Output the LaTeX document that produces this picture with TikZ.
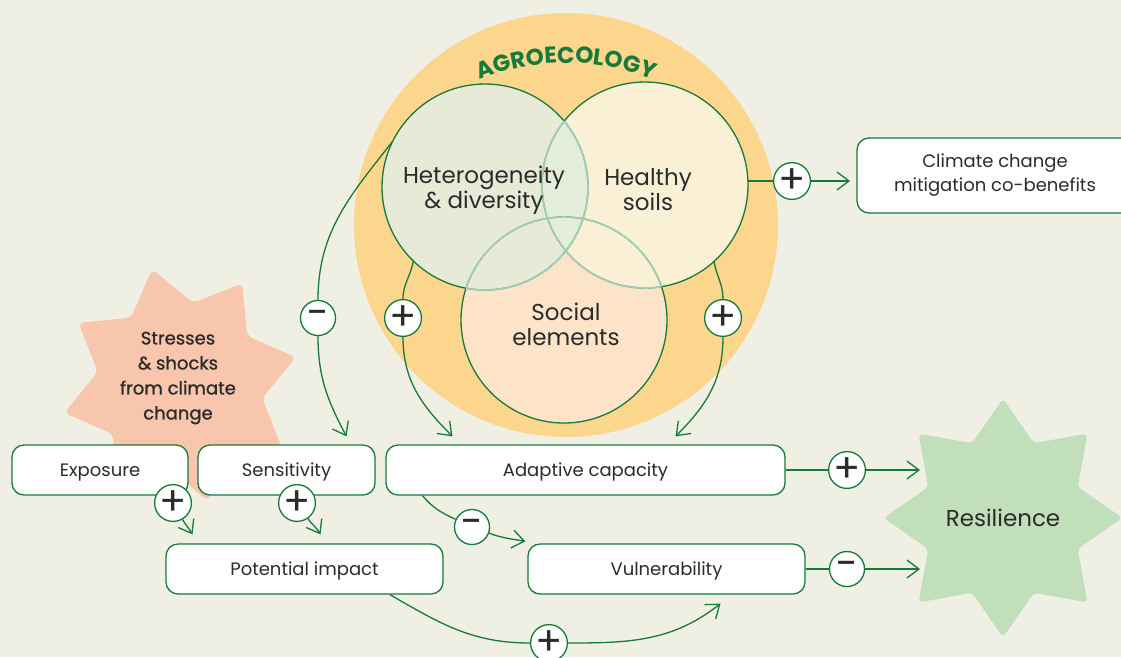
\documentclass[tikz,border=0pt]{standalone}
\usepackage{fontspec}
\setmainfont{Poppins}
\newfontfamily\stressfont{Poppins}[FakeBold=1]
\usetikzlibrary{shapes.geometric,arrows.meta,decorations.text}

\definecolor{bgcol}{RGB}{240,239,227}
\definecolor{agreen}{RGB}{22,122,58}
\definecolor{paleline}{RGB}{165,206,186}
\definecolor{orangeglow}{RGB}{253,214,142}
\definecolor{hdfill}{RGB}{231,234,214}
\definecolor{hsfill}{RGB}{249,240,214}
\definecolor{sofill}{RGB}{253,228,200}
\definecolor{hdhs}{RGB}{227,237,218}
\definecolor{stressfill}{RGB}{248,198,172}
\definecolor{resfill}{RGB}{192,223,186}
\definecolor{txt}{RGB}{43,43,43}

\tikzset{
  box/.style={draw=agreen, line width=1.3pt, fill=white, rounded corners=12pt,
    minimum height=50pt, font=\fontsize{18}{24}\selectfont, text=txt},
  boxline/.style={box, text height=14pt, text depth=0.6pt},
  sign/.style={circle, draw=agreen, line width=1.3pt, fill=white, minimum size=35pt,
    inner sep=0pt, text=txt, font=\fontsize{40}{40}\selectfont},
  link/.style={draw=agreen, line width=1.3pt},
  venn/.style={circle, minimum size=206pt, inner sep=0pt},
  venntext/.style={align=center, text=txt, font=\fontsize{23}{25}\selectfont},
}

\begin{document}
\begin{tikzpicture}[x=1pt,y=1pt,>={Straight Barb[length=12pt,width=18pt]}]
  \useasboundingbox (0,0) rectangle (1121,-657);
  \fill[bgcol] (0,0) rectangle (1121,-657);

  % backgrounds
  \node[circle, fill=orangeglow, minimum size=424pt, inner sep=0pt] (agro) at (566,-225) {};
  \node[star, star points=8, star point ratio=1.43, minimum size=238pt, shape border rotate=13.5,
        fill=stressfill, rounded corners=5pt, inner sep=0pt] (stress) at (180,-385) {};
  \node[align=center, text=txt, font=\stressfont\fontsize{18}{25}\selectfont] (stresstxt) at (178,-378)
        {Stresses\\\& shocks\\from climate\\change};
  \node[star, star points=8, star point ratio=1.475, minimum size=236pt,
        fill=resfill, rounded corners=4pt, inner sep=0pt, text=txt,
        font=\fontsize{23}{25}\selectfont] (res) at (1003,-518) {Resilience};

  % venn
  \node[venn, fill=sofill] (so) at (564,-320) {};
  \node[venn, fill=hdfill] (hd) at (485,-187) {};
  \node[venn, fill=hsfill] (hs) at (645,-185) {};
  \begin{scope}
    \clip (hd.center) circle[radius=103];
    \fill[hdhs] (hs.center) circle[radius=103];
  \end{scope}
  \foreach \c in {hd,hs,so}
    \draw[agreen, line width=1.3pt] (\c.center) circle[radius=103];
  \begin{scope}
    \clip (hs.center) circle[radius=103] (so.center) circle[radius=103];
    \draw[paleline, line width=1.6pt] (hd.center) circle[radius=103];
  \end{scope}
  \begin{scope}
    \clip (hd.center) circle[radius=103] (so.center) circle[radius=103];
    \draw[paleline, line width=1.6pt] (hs.center) circle[radius=103];
  \end{scope}
  \begin{scope}
    \clip (hd.center) circle[radius=103] (hs.center) circle[radius=103];
    \draw[paleline, line width=1.6pt] (so.center) circle[radius=103];
  \end{scope}
  \node[venntext] (hdtxt) at (484,-190) {Heterogeneity\\\& diversity};
  \node[venntext] (hstxt) at (648,-190) {Healthy\\soils};
  \node[venntext] (sotxt) at (566,-324) {Social\\elements};
  \path[decorate, decoration={text along path, text align=center, text color=agreen,
        text={|\fontsize{23}{23}\selectfont\bfseries|AGROECOLOGY}}]
        (566,-293) ++(116:230) arc[start angle=116, end angle=64, radius=230];

  % boxes
  \node[boxline, minimum width=176pt] (expo) at (100,-470) {Exposure};
  \node[boxline, minimum width=177pt] (sens) at (286.5,-470) {Sensitivity};
  \node[boxline, minimum width=399pt] (adap) at (585.5,-470) {Adaptive capacity};
  \node[boxline, minimum width=277pt] (pot) at (304.5,-569) {Potential impact};
  \node[boxline, minimum width=277pt] (vul) at (666.5,-569) {Vulnerability};
  \node[box, minimum width=276pt, minimum height=75pt, align=center] (clim) at (995,-175.5)
        {Climate change\\mitigation co-benefits};

  % signs
  \node[sign] (s1) at (318,-318) {\char"2212};
  \node[sign] (s2) at (403,-318) {+};
  \node[sign] (s3) at (723,-318) {+};
  \node[sign] (s4) at (792,-181) {+};
  \node[sign] (s5) at (173,-503) {+};
  \node[sign] (s6) at (297,-503) {+};
  \node[sign] (s7) at (472,-527) {\char"2212};
  \node[sign] (s8) at (847,-470) {+};
  \node[sign] (s9) at (847,-569) {\char"2212};
  \node[sign] (s10) at (549,-643) {+};
  \coordinate (cin) at (850,-181);
  \coordinate (rin1) at (920,-470);
  \coordinate (rin2) at (920,-569);

  % links
  \draw[link] (hd.154) to[out=232,in=90] (s1);
  \draw[link,->] (s1) to[out=-90,in=118] ([xshift=60pt,yshift=8pt]sens.north);
  \draw[link] (hd.226) to[out=-100,in=90] (s2);
  \draw[link,->] (s2) to[out=-90,in=135] ([xshift=-133pt,yshift=8pt]adap.north);
  \draw[link] (hs.-48) to[out=-80,in=90] (s3);
  \draw[link,->] (s3) to[out=-90,in=45] ([xshift=90pt,yshift=8pt]adap.north);
  \draw[link] (hs.east |- s4) -- (s4);
  \draw[link,->] (s4) -- (cin);
  \draw[link,->] (s5) to[out=-60,in=120] ([xshift=-112pt,yshift=9pt]pot.north);
  \draw[link,->] (s6) to[out=-55,in=120] ([xshift=16pt,yshift=9pt]pot.north);
  \draw[link] ([xshift=-163pt]adap.south) to[out=-50,in=155] (s7);
  \draw[link,->] (s7) to[out=-20,in=170] ([xshift=-2pt,yshift=2pt]vul.north west);
  \draw[link] (adap.east) -- (s8);
  \draw[link,->] (s8) -- (rin1);
  \draw[link] (vul.east) -- (s9);
  \draw[link,->] (s9) -- (rin2);
  \draw[link] ([xshift=85.5pt]pot.south) to[out=-30,in=180] (s10);
  \draw[link,->] (s10) to[out=0,in=218] ([xshift=54pt,yshift=-9pt]vul.south);
\end{tikzpicture}
\end{document}
